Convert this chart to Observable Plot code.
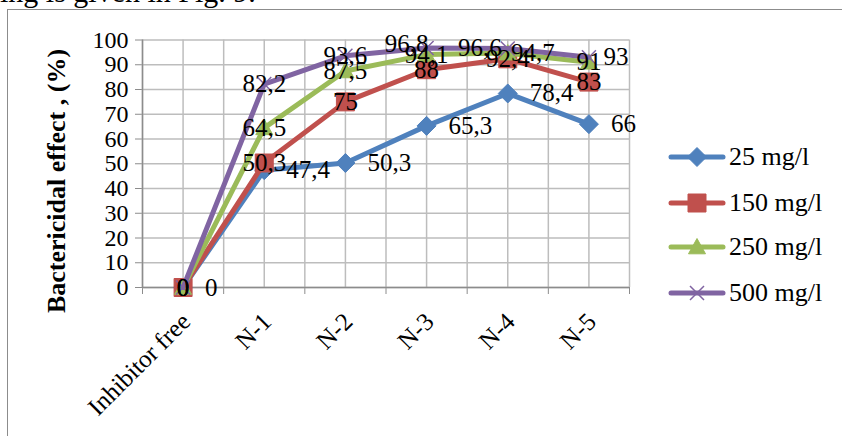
<!DOCTYPE html>
<html>
<head>
<meta charset="utf-8">
<script src="https://cdn.jsdelivr.net/npm/d3@7"></script>
<script src="https://cdn.jsdelivr.net/npm/@observablehq/plot@0.6"></script>
<style>
  html, body { margin: 0; padding: 0; background: #fff; overflow: hidden; width: 842px; height: 436px; }
  #wrap { position: relative; width: 842px; height: 436px; font-family: "Liberation Serif", "Times New Roman", serif; color: #000; }
  #lead { position: absolute; left: 0; top: -23px; font-size: 30px; line-height: 30px; white-space: nowrap; }
  #frame { position: absolute; left: 7px; top: 9px; width: 900px; height: 500px; border-left: 1.5px solid #8c8c8c; border-top: 1.5px solid #8c8c8c; }
  #chart { position: absolute; left: 0; top: 0; }
  #chart svg text { fill: #000; }
  #ytitle { position: absolute; left: -93px; top: 166px; width: 300px; height: 30px; line-height: 30px; text-align: center;
            font-weight: bold; font-size: 26px; transform: rotate(-90deg); white-space: nowrap; }
  #legend { position: absolute; left: 668px; top: 0; }
  .legend-row { position: absolute; left: 0; height: 30px; display: flex; align-items: center; white-space: nowrap; font-size: 26px; }
  .legend-row svg { display: block; margin-right: 3px; }
</style>
</head>
<body>
<div id="wrap">
  <div id="lead">ing is given in Fig. 9.</div>
  <div id="frame"></div>
  <div id="chart"></div>
  <div id="ytitle">Bactericidal effect , (%)</div>
  <div id="legend"></div>
</div>
<script>
// Bactericidal effect (%) of four inhibitor concentrations across samples
const categories = ["Inhibitor free", "N-1", "N-2", "N-3", "N-4", "N-5"];
const seriesNames = ["25 mg/l", "150 mg/l", "250 mg/l", "500 mg/l"];
const values25 = [0, 47.4, 50.3, 65.3, 78.4, 66];
const values150 = [0, 50.3, 75, 88, 92.4, 83];
const values250 = [0, 64.5, 87.5, 94.1, 94.7, 91];
const values500 = [0, 82.2, 93.6, 96.8, 96.6, 93];
const yTicks = [0, 10, 20, 30, 40, 50, 60, 70, 80, 90, 100];

const seriesValues = [values25, values150, values250, values500];
const seriesColors = ["#4F81BD", "#C0504D", "#9BBB59", "#8064A2"];

// Marker shapes (size = squared pixel extent)
const diamond = { draw(ctx, size) { const h = Math.sqrt(size) / 2; ctx.moveTo(0, -h); ctx.lineTo(h, 0); ctx.lineTo(0, h); ctx.lineTo(-h, 0); ctx.closePath(); } };
const square = { draw(ctx, size) { const h = Math.sqrt(size) / 2; ctx.rect(-h, -h, 2 * h, 2 * h); } };
const triangle = { draw(ctx, size) { const h = Math.sqrt(size) / 2; ctx.moveTo(0, -h); ctx.lineTo(h, h * 0.8); ctx.lineTo(-h, h * 0.8); ctx.closePath(); } };
const cross = { draw(ctx, size) { const h = Math.sqrt(size) / 2; ctx.moveTo(-h, -h); ctx.lineTo(h, h); ctx.moveTo(h, -h); ctx.lineTo(-h, h); } };
const markers = [
  { symbol: diamond, extent: 19, filled: true },
  { symbol: square, extent: 18, filled: true },
  { symbol: triangle, extent: 17, filled: true },
  { symbol: cross, extent: 14, filled: false }
];
const rFor = (extent) => extent / Math.sqrt(Math.PI);

// Data label placement: 25 mg/l labels sit to the right, the rest on the point,
// with a few nudged sideways where they crowd each other.
const labelNudges = {
  "250 mg/l|N-4": [25, 0],
  "500 mg/l|N-3": [-20, -4],
  "500 mg/l|N-4": [-28, 0],
  "500 mg/l|N-5": [27, 0]
};

const rows = seriesNames.flatMap((s, si) =>
  seriesValues[si].map((v, i) => ({ series: s, si, i, category: categories[i], value: v })));

const fmt = (v) => String(v).replace(".", ",");
const edges = d3.range(categories.length + 1).map((k) => k - 0.5);
const gridX = d3.range(2 * categories.length + 1).map((k) => k / 2 - 0.5);

const gridColor = "#bdbdbd";
const axisColor = "#8c8c8c";

const marks = [
  Plot.ruleY(yTicks, { stroke: gridColor, strokeWidth: 1.5 }),
  Plot.ruleX(gridX, { stroke: gridColor, strokeWidth: 1.5 }),
  Plot.ruleX([-0.5], { stroke: axisColor, strokeWidth: 1.5 }),
  Plot.ruleY([0], { stroke: axisColor, strokeWidth: 1.5 })
];

seriesNames.forEach((s, si) => {
  const data = rows.filter((d) => d.series === s);
  const m = markers[si];
  marks.push(Plot.line(data, {
    x: "i", y: "value", stroke: seriesColors[si], strokeWidth: 5,
    strokeLinejoin: "round", strokeLinecap: "round"
  }));
  marks.push(Plot.dot(data, {
    x: "i", y: "value", symbol: m.symbol, r: rFor(m.extent),
    fill: m.filled ? seriesColors[si] : "none",
    stroke: seriesColors[si], strokeWidth: m.filled ? 1 : 1.5
  }));
});

// Value labels
rows.forEach((d) => {
  const key = d.series + "|" + d.category;
  let dx = 0, dy = 0, anchor = "middle";
  if (d.si === 0) { dx = 22; anchor = "start"; }
  if (labelNudges[key]) { [dx, dy] = labelNudges[key]; }
  marks.push(Plot.text([d], {
    x: "i", y: "value", text: (e) => fmt(e.value),
    dx, dy, textAnchor: anchor, lineAnchor: "middle", fontSize: 25, fill: "#000"
  }));
});

// Category labels, slanted
marks.push(Plot.text(categories, {
  x: (d, i) => i, frameAnchor: "bottom", text: (d) => d,
  rotate: -45, textAnchor: "end", lineAnchor: "middle",
  dx: 3, dy: 30, fontSize: 25, fill: "#000"
}));

const chart = Plot.plot({
  width: 842,
  height: 436,
  marginLeft: 142,
  marginRight: 213,
  marginTop: 39.5,
  marginBottom: 149,
  style: { background: "transparent", color: axisColor, fontFamily: "Liberation Serif, Times New Roman, serif", fontSize: "24px", overflow: "visible" },
  x: { type: "linear", domain: [-0.5, categories.length - 0.5], ticks: edges, tickSize: 7, tickFormat: () => "", label: null },
  y: { domain: [0, 100], ticks: yTicks, tickSize: 7, tickPadding: 7, tickFormat: (d) => String(d), label: null },
  marks
});
document.getElementById("chart").append(chart);

// Legend
const legend = d3.select("#legend");
const rowTops = [142, 188, 232, 278];
seriesNames.forEach((s, si) => {
  const row = legend.append("div").attr("class", "legend-row").style("top", rowTops[si] + "px");
  const sw = row.append("svg").attr("width", 58).attr("height", 30);
  sw.append("line").attr("x1", 3).attr("x2", 55).attr("y1", 15).attr("y2", 15)
    .attr("stroke", seriesColors[si]).attr("stroke-width", 5).attr("stroke-linecap", "round");
  const m = markers[si];
  sw.append("path").attr("transform", "translate(29,15)")
    .attr("d", d3.symbol(m.symbol, m.extent * m.extent)())
    .attr("fill", m.filled ? seriesColors[si] : "none")
    .attr("stroke", seriesColors[si]).attr("stroke-width", m.filled ? 1 : 1.5);
  row.append("span").text(s);
});
</script>
</body>
</html>
